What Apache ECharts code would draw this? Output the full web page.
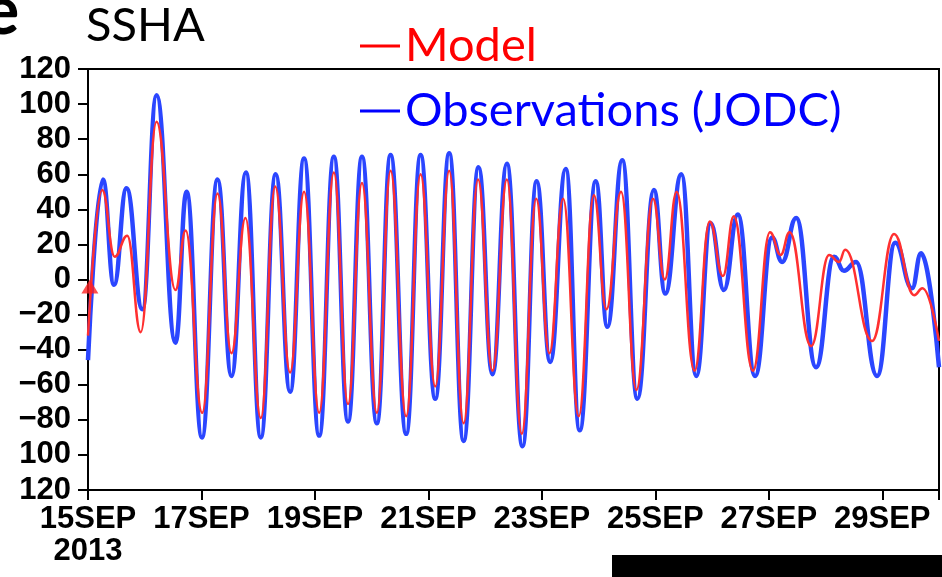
<!DOCTYPE html>
<html><head><meta charset="utf-8">
<script src="https://cdn.jsdelivr.net/npm/echarts@6/dist/echarts.min.js"></script>
<style>html,body{margin:0;padding:0;background:#fff}#c{width:942px;height:577px}</style>
</head><body><div id="c"></div>
<script>
// Tick labels (as printed on the figure; the two lowest lose their minus sign)
const xTickLabels = ['15SEP\n2013','17SEP','19SEP','21SEP','23SEP','25SEP','27SEP','29SEP'];
const yTickLabels = ['120','100','\u221280','\u221260','\u221240','\u221220','0','20','40','60','80','100','120'];

// Observations (JODC): hours since 15SEP2013 00:00 and SSHA values (cm) at turning points
const obsHours = [0,6.3,11,16.3,23,29,37,41.7,48.2,54.8,60.7,66.8,73.1,79.4,85.5,91.4,97.8,104,110,115.9,122.2,128,134.6,140.7,146.9,152.8,158.9,165.2,171.1,177.2,183.8,189.8,195.5,202.1,208,214.8,219.7,226,232.4,239.4,244.2,251,257.3,263.4,269,274.9,282.2,289.4,293.6,299.6,308,315.6,319.8,324.9,333.8,341.5,348.6,352.4,360];
const obsValues = [-46,57,-3,52,-17,105,-36,50,-90,57,-55,61,-90,60,-64,69,-89,70,-81,70,-82,71,-88,71,-68,72,-92,64,-54,66,-95,56,-47,63,-86,56,-27,68,-68,51,-8,60,-55,32,-6,37,-55,24,10,35,-50,13,5,10,-55,21,-5,15,-50];

// Model
const modelHours = [0,6,11.3,16.6,22.3,29,37,41.3,48.3,54.8,60.7,66.6,73.1,79.2,85.5,91.4,97.8,104,110,115.9,122.2,128,134.6,140.7,146.9,152.8,158.9,165,171.1,177.2,183.5,189.6,195.2,201,207.6,214,219.3,225.5,232,239,244,249,256.6,263,268.6,273.2,281.3,288.5,293,296.8,305.9,313.5,317.7,320.3,331.7,341,349.5,353,360];
const modelValues = [-32,51,13,25,-30,90,-6,28,-76,49,-42,35,-79,53,-53,50,-76,61,-71,55,-76,62,-78,60,-61,62,-82,57,-52,57,-88,46,-42,46,-78,48,-17,50,-63,46,0,50,-52,33,2,36,-52,27,14,27,-38,14,10,17,-35,26,-9,-5,-35];

// Start marker (red triangle)
const markerHours = [0.8];
const markerValues = [-4];

const zip = (a, b) => a.map((t, i) => [t, b[i]]);

const chart = echarts.init(document.getElementById('c'), null, {renderer: 'canvas'});
chart.setOption({
  animation: false,
  backgroundColor: '#fff',
  title: {
    text: 'SSHA', left: 86, top: 2, padding: 0,
    textStyle: {fontFamily: 'Lato', fontSize: 47, fontWeight: 'normal', color: '#000'}
  },
  legend: {
    orient: 'vertical', left: 360, top: 21, padding: 0,
    icon: 'rect', itemWidth: 40, itemHeight: 3, itemGap: 15,
    textStyle: {fontFamily: 'Lato', fontSize: 47, lineHeight: 50},
    data: [
      {name: 'Model', textStyle: {color: '#ff0000'}, itemStyle: {color: '#ff0000'}},
      {name: 'Observations (JODC)', textStyle: {color: '#0000ff'}, itemStyle: {color: '#0000ff'}}
    ]
  },
  grid: {left: 88, right: 2, top: 69, bottom: 87, show: true, borderColor: '#000', borderWidth: 2, backgroundColor: 'transparent'},
  xAxis: {
    type: 'value', min: 0, max: 360, interval: 48,
    axisLine: {onZero: false, lineStyle: {color: '#000', width: 2}},
    axisTick: {show: true, inside: false, length: 10, lineStyle: {color: '#000', width: 2}},
    splitLine: {show: false},
    axisLabel: {
      margin: 13, color: '#000', fontFamily: 'Liberation Sans', fontWeight: 'bold', fontSize: 31, lineHeight: 32,
      showMinLabel: true, showMaxLabel: true,
      formatter: v => { const k = v / 48; return Number.isInteger(k) && xTickLabels[k] !== undefined ? xTickLabels[k] : ''; }
    }
  },
  yAxis: {
    type: 'value', min: -120, max: 120, interval: 20,
    axisLine: {show: true, onZero: false, lineStyle: {color: '#000', width: 2}},
    axisTick: {show: true, inside: false, length: 10, lineStyle: {color: '#000', width: 2}},
    splitLine: {show: false},
    axisLabel: {
      margin: 17, color: '#000', fontFamily: 'Liberation Sans', fontWeight: 'bold', fontSize: 31,
      formatter: v => yTickLabels[Math.round((v + 120) / 20)]
    }
  },
  graphic: [
    {type: 'text', left: -17, top: -22, style: {text: 'e', fontFamily: 'Lato', fontWeight: 'bold', fontSize: 68, fill: '#000'}},
    {type: 'rect', shape: {x: 612, y: 555, width: 330, height: 22}, style: {fill: '#000'}}
  ],
  series: [
    {
      name: 'Observations (JODC)', type: 'line', data: zip(obsHours, obsValues),
      smooth: 0.45, smoothMonotone: 'x', showSymbol: false, symbol: 'none',
      lineStyle: {color: '#2b46ff', width: 4.5}, itemStyle: {color: '#0000ff'}, z: 2
    },
    {
      name: 'Model', type: 'line', data: zip(modelHours, modelValues),
      smooth: 0.45, smoothMonotone: 'x', showSymbol: false, symbol: 'none',
      lineStyle: {color: '#ff3030', width: 2.5}, itemStyle: {color: '#ff0000'}, z: 3
    },
    {
      name: 'start', type: 'scatter', data: zip(markerHours, markerValues),
      symbol: 'triangle', symbolSize: [17, 14], itemStyle: {color: '#ff2020'}, z: 5, clip: false
    }
  ]
});
</script></body></html>
